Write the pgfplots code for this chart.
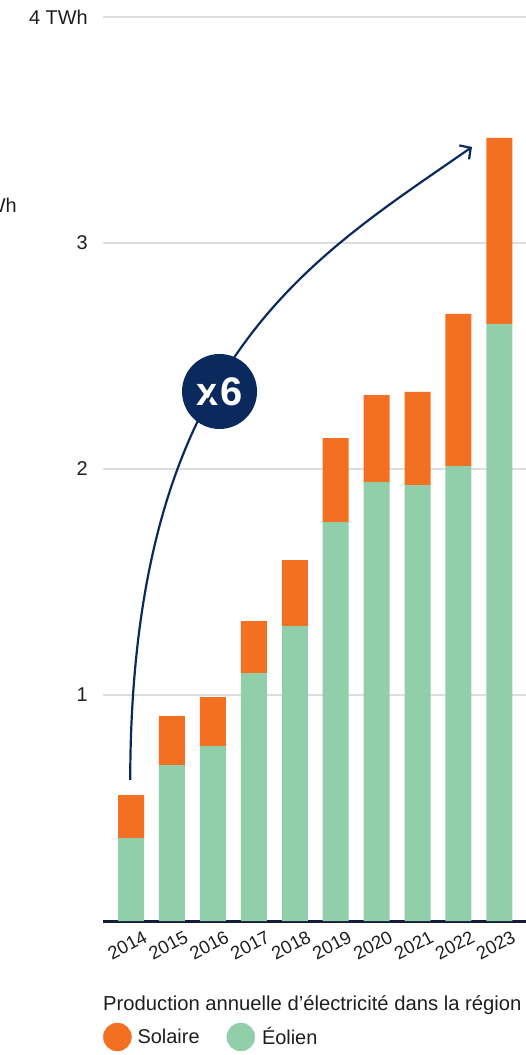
\documentclass[border=0pt]{standalone}
\usepackage{fontspec}
\setmainfont{Liberation Sans}
\usepackage{pgfplots}
\usepackage{pgfplotstable}
\pgfplotsset{compat=1.18}
\usetikzlibrary{arrows.meta}
\definecolor{solaire}{RGB}{243,111,33}
\definecolor{eolien}{RGB}{145,207,170}
\definecolor{navy}{RGB}{10,42,94}
\definecolor{gridc}{RGB}{222,222,222}
\definecolor{baseln}{RGB}{20,28,58}
\definecolor{txt}{RGB}{30,30,30}

\pgfplotstableread{
x eolien solaire
0 0.367 0.190
1 0.690 0.217
2 0.774 0.217
3 1.097 0.230
4 1.305 0.292
5 1.765 0.372
6 1.942 0.385
7 1.929 0.412
8 2.013 0.673
9 2.642 0.823
}\datatable

\begin{document}
\begin{tikzpicture}
\begin{axis}[
  at={(0,0)}, anchor=south west,
  scale only axis, width=423bp, height=904bp,
  xmin=-0.685, xmax=9.65, ymin=0, ymax=4,
  ybar stacked, bar width=26bp,
  axis line style={draw=none},
  tick style={draw=none},
  ymajorgrids, grid style={gridc, line width=1.3bp},
  ytick={1,2,3,4}, yticklabels={1,2,3,4 TWh},
  yticklabel style={font=\fontsize{20}{23}\selectfont, text=txt, anchor=east, inner sep=0pt, xshift=-15bp},
  xtick={0,...,9},
  xticklabels={2014,2015,2016,2017,2018,2019,2020,2021,2022,2023},
  xticklabel style={font=\fontsize{18.5}{22}\selectfont, text=txt, rotate=28, anchor=north east, inner sep=0pt, xshift=6bp, yshift=-13bp},
  legend style={at={(0,0)}, anchor=west, yshift=-116bp, draw=none, fill=none, inner sep=0pt,
    font=\fontsize{20}{23}\selectfont, text=txt,
    legend columns=2, nodes={inner sep=0pt},
    /tikz/every even column/.append style={column sep=27bp}},
  legend cell align=left,
  clip=false,
]
\addlegendimage{legend image code/.code={\fill[solaire] (14bp,0) circle (14bp); \path (34bp,0);}}
\addlegendentry{Solaire}
\addlegendimage{legend image code/.code={\fill[eolien] (14bp,0) circle (14bp); \path (35bp,0);}}
\addlegendentry{Éolien}
\addplot[fill=eolien, draw=none, forget plot] table[x=x, y=eolien] {\datatable};
\addplot[fill=solaire, draw=none, forget plot] table[x=x, y=solaire] {\datatable};
\draw[baseln, line width=3bp] (rel axis cs:0,0) -- (rel axis cs:1,0);
\draw[navy, line width=2.2bp, -{Straight Barb[length=8bp,width=17bp,line width=2.2bp]}]
  (axis cs:-0.02,0.624) .. controls (axis cs:0,2.482) and (axis cs:4.372,2.925) .. (axis cs:8.33,3.425);
\node[circle, fill=navy, minimum size=75bp, inner sep=0pt, text=white,
  font=\bfseries\fontsize{40}{40}\selectfont] at (axis cs:2.162,2.343) {x\kern1.5bp 6};
\path (rel axis cs:0,0) ++(0bp,-84bp) node[anchor=west, inner sep=0pt, text=txt, font=\fontsize{20.3}{23}\selectfont] {Production annuelle d’électricité dans la région};
\path (rel axis cs:0,0) ++(-86bp,716bp) node[anchor=east, inner sep=0pt, text=txt, font=\fontsize{20}{23}\selectfont] {Wh};
\end{axis}
\pgfresetboundingbox
\path[use as bounding box] (-103bp,-134bp) rectangle (423bp,921bp);
\end{tikzpicture}
\end{document}
